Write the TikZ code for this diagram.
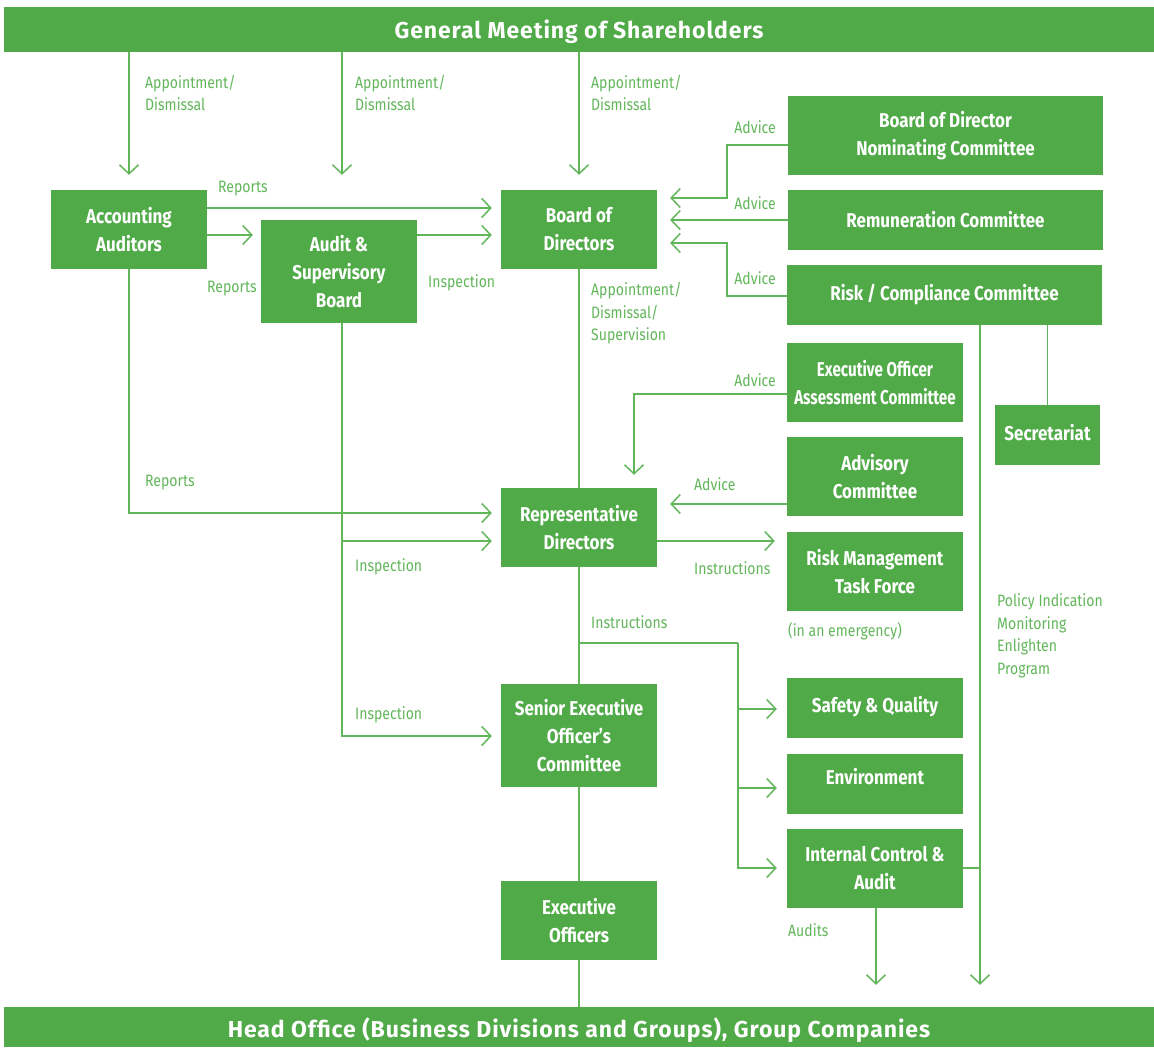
\documentclass[tikz,border=0pt]{standalone}
\usepackage{fontspec}
\setmainfont{Fira Sans}
\newfontfamily\boxfont{Fira Sans}[FakeStretch=0.85]
\newfontfamily\boxfontn{Fira Sans}[FakeStretch=0.76]
\newfontfamily\labfont{Fira Sans}[FakeStretch=0.85]
\newfontfamily\barfont{Fira Sans}[LetterSpace=4]
\usetikzlibrary{arrows.meta}
\definecolor{G}{RGB}{80,170,72}
\definecolor{GL}{RGB}{98,182,90}
\tikzset{
  box/.style={fill=G, text=white, font=\boxfont\bfseries\fontsize{20}{28}\selectfont, align=center, inner sep=0pt},
  bar/.style={fill=G, text=white, font=\barfont\bfseries\fontsize{23}{26}\selectfont, inner sep=0pt},
  lab/.style={text=GL, font=\labfont\fontsize{16.5}{22.5}\selectfont, inner sep=0pt, align=left},
  ln/.style={draw=GL, line width=1.5pt},
  arr/.style={ln, -{Straight Barb[length=9pt,width=19pt]}}
}
\begin{document}
\begin{tikzpicture}[x=1pt,y=-1pt]
\useasboundingbox (0,0) rectangle (1154,1047);
% bars
\node[bar, minimum width=1150, minimum height=45] (top) at (579,29.5) {\raisebox{-9pt}[0pt][0pt]{General Meeting of Shareholders}};
\node[bar, minimum width=1150, minimum height=40] (bot) at (579,1027) {\raisebox{-10.5pt}[0pt][0pt]{Head Office (Business Divisions and Groups), Group Companies}};
% boxes
\node[box, minimum width=156, minimum height=79] (aa) at (129,229.5) {Accounting\\Auditors};
\node[box, minimum width=156, minimum height=103] (asb) at (339,271.5) {Audit \&\\Supervisory\\Board};
\node[box, minimum width=156, minimum height=79] (bod) at (579,229.5) {Board of\\Directors};
\node[box, minimum width=315, minimum height=79] (nom) at (945.5,135.5) {Board of Director\\Nominating Committee};
\node[box, minimum width=315, minimum height=60] (rem) at (945.5,220) {Remuneration Committee};
\node[box, minimum width=315, minimum height=60] (risk) at (944.5,295) {Risk / Compliance Committee};
\node[box, font=\boxfontn\bfseries\fontsize{20}{28}\selectfont, minimum width=176, minimum height=79] (eoac) at (875,382.5) {Executive Officer\\Assessment Committee};
\node[box, minimum width=105, minimum height=60] (sec) at (1047.5,435) {\raisebox{-5pt}[0pt][0pt]{Secretariat}};
\node[box, minimum width=176, minimum height=79] (adv) at (875,476.5) {Advisory\\Committee};
\node[box, minimum width=156, minimum height=79] (rd) at (579,527.5) {Representative\\Directors};
\node[box, minimum width=176, minimum height=79] (rmtf) at (875,571.5) {Risk Management\\Task Force};
\node[box, minimum width=176, minimum height=60] (sq) at (875,708) {\raisebox{-4pt}[0pt][0pt]{Safety \& Quality}};
\node[box, minimum width=176, minimum height=60] (env) at (875,784) {\raisebox{0pt}[0pt][0pt]{Environment}};
\node[box, minimum width=176, minimum height=79] (ica) at (875,868.5) {Internal Control \&\\Audit};
\node[box, minimum width=156, minimum height=103] (seoc) at (579,735.5) {Senior Executive\\Officer’s\\Committee};
\node[box, minimum width=156, minimum height=79] (eo) at (579,920.5) {Executive\\Officers};
% connectors from top
\draw[arr, shorten >=15pt] (aa.north |- top.south) -- (aa.north);
\draw[arr, shorten >=45pt] ([xshift=3pt]asb.north |- top.south) -- ([xshift=3pt]asb.north);
\draw[arr, shorten >=15pt] (bod.north |- top.south) -- (bod.north);
% accounting auditors / audit board
\draw[arr, shorten >=9pt] (aa.east |- 0,208) -- (bod.west |- 0,208);
\draw[arr, shorten >=8pt] (aa.east |- 0,235) -- (asb.west |- 0,235);
\draw[arr, shorten >=9pt] (asb.east |- 0,235) -- (bod.west |- 0,235);
% advice to board
\draw[arr, shorten >=13pt] (nom.west |- 0,145) -- (727,145) -- (727,198) -- (bod.east |- 0,198);
\draw[arr, shorten >=13pt] (rem.west |- 0,220) -- (bod.east |- 0,220);
\draw[arr, shorten >=13pt] (risk.west |- 0,296) -- (727,296) -- (727,243) -- (bod.east |- 0,243);
% risk compliance
\draw[arr, shorten >=22pt] (risk.south -| 980,0) -- (bot.north -| 980,0);
\draw[ln] (sec.north |- risk.south) -- (sec.north);
\draw[ln] (ica.east |- 0,868) -- (980,868);
% advice to representative directors
\draw[arr, shorten >=13pt] (eoac.west |- 0,394) -- (634,394) -- (rd.north -| 634,0);
\draw[arr, shorten >=13pt] (adv.west |- 0,504) -- (rd.east |- 0,504);
\draw[arr, shorten >=12pt] (rd.east |- 0,541) -- (rmtf.west |- 0,541);
% reports / inspection from left
\draw[arr, shorten >=9pt] (aa.south) |- (rd.west |- 0,513);
\draw[arr, shorten >=9pt] ([xshift=3pt]asb.south) |- (rd.west |- 0,541);
\draw[arr, shorten >=9pt] ([xshift=3pt]asb.south) |- (seoc.west |- 0,736);
% main vertical
\draw[ln] (bod.south) -- (rd.north);
\draw[ln] (rd.south) -- (seoc.north);
\draw[ln] (seoc.south) -- (eo.north);
\draw[ln] (eo.south) -- (bot.north);
% instructions branch
\coordinate (bx) at (738,643);
\draw[ln] (rd.south |- bx) -- (bx);
\draw[arr, shorten >=10pt] (bx) |- (sq.west |- 0,709);
\draw[arr, shorten >=10pt] (bx) |- (env.west |- 0,788);
\draw[arr, shorten >=10pt] (bx) |- (ica.west |- 0,868);
% audits
\draw[arr, shorten >=22pt] ([xshift=1pt]ica.south) -- ([xshift=1pt]ica.south |- bot.north);
% labels
\node[lab, anchor=west] (l1) at (145,93) {Appointment/\\Dismissal};
\node[lab, anchor=west] (l2) at (355,93) {Appointment/\\Dismissal};
\node[lab, anchor=west] (l3) at (591,93) {Appointment/\\Dismissal};
\node[lab, anchor=west] (l4) at (218,189) {Reports};
\node[lab, anchor=west] (l5) at (207,289) {Reports};
\node[lab, anchor=west] (l6) at (428,283) {Inspection};
\node[lab, anchor=west] (l7) at (591,313.5) {Appointment/\\Dismissal/\\Supervision};
\node[lab, anchor=east] (l8) at (776,127) {Advice};
\node[lab, anchor=east] (l9) at (776,203) {Advice};
\node[lab, anchor=east] (l10) at (776,278) {Advice};
\node[lab, anchor=east] (l11) at (776,380) {Advice};
\node[lab, anchor=west] (l12) at (694,484) {Advice};
\node[lab, anchor=west] (l13) at (145,483) {Reports};
\node[lab, anchor=west] (l14) at (355,567) {Inspection};
\node[lab, anchor=west] (l15) at (355,715) {Inspection};
\node[lab, anchor=west] (l16) at (694,568) {Instructions};
\node[lab, anchor=west] (l17) at (591,622) {Instructions};
\node[lab, anchor=west] (l18) at (788,631) {(in an emergency)};
\node[lab, anchor=west] (l19) at (788,930) {Audits};
\node[lab, anchor=west] (l20) at (997,636) {Policy Indication\\Monitoring\\Enlighten\\Program};
\end{tikzpicture}
\end{document}
